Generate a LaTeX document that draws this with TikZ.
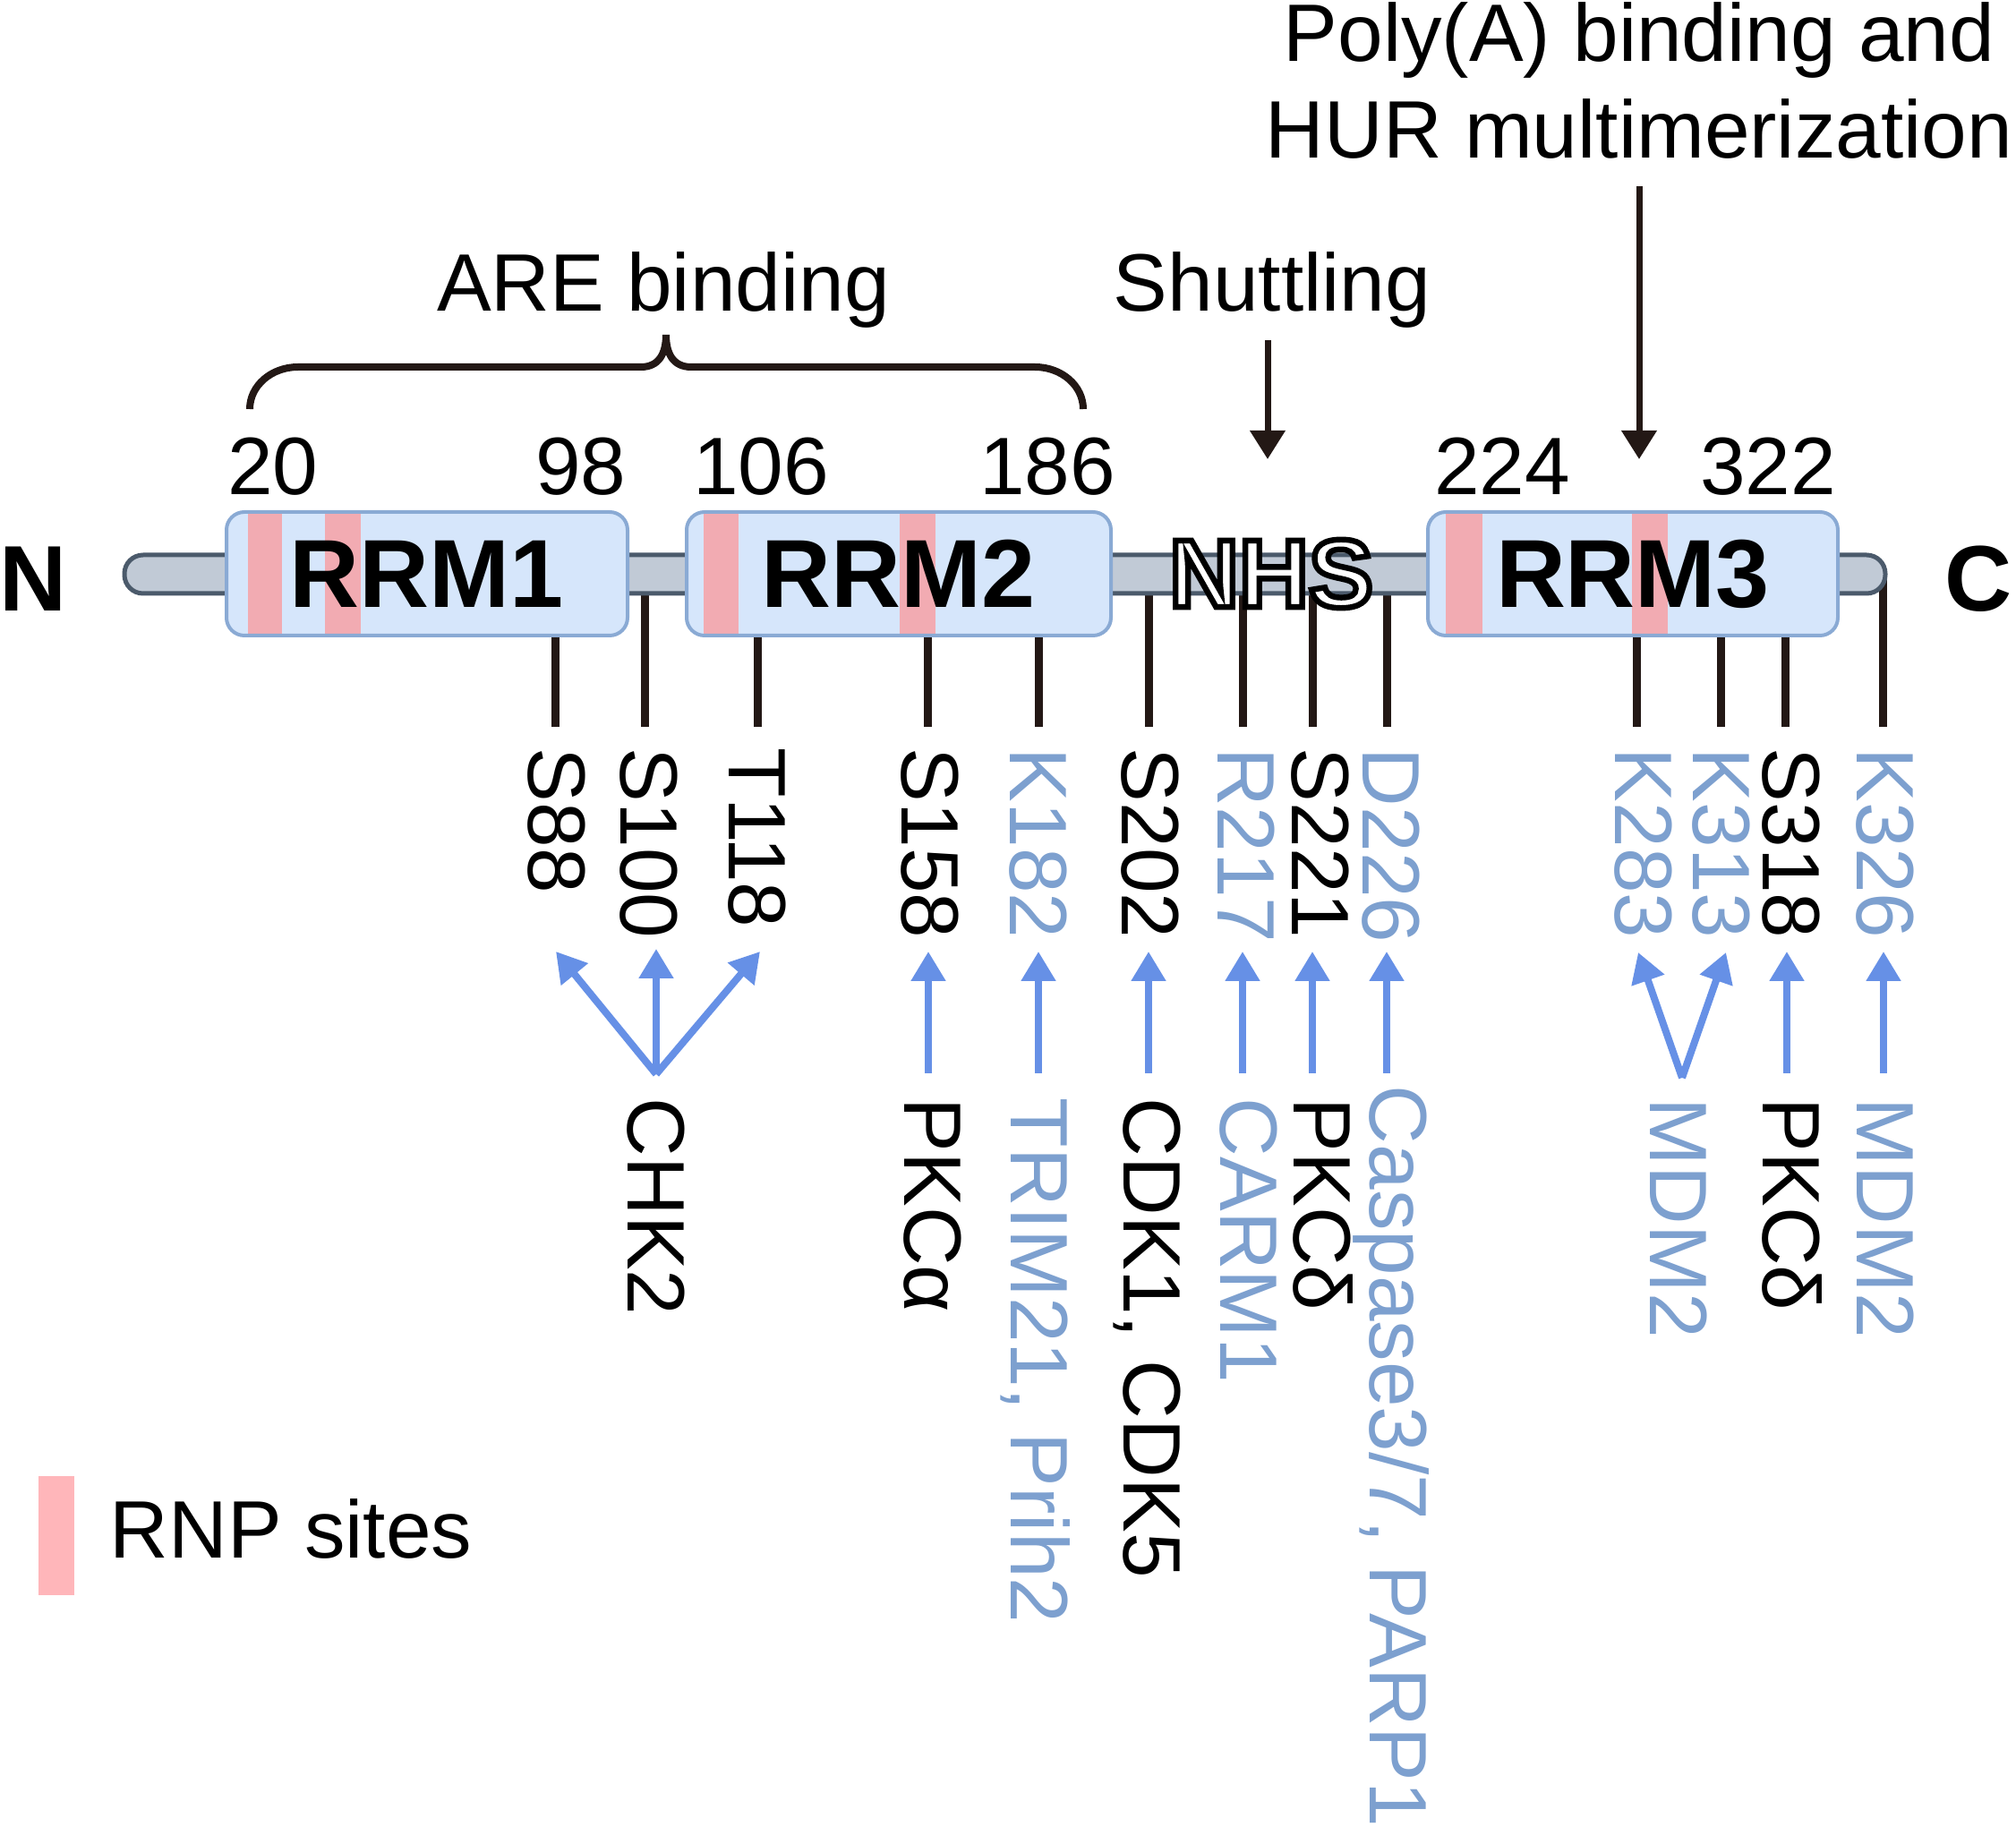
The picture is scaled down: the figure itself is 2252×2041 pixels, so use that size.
\documentclass[tikz,border=0pt]{standalone}
\usepackage{fontspec}
\setmainfont{Liberation Sans}
\usetikzlibrary{arrows.meta}
\definecolor{lineblk}{HTML}{231815}
\definecolor{bluetxt}{HTML}{7DA0CF}
\definecolor{arrowblue}{HTML}{6690E6}
\definecolor{boxfill}{HTML}{D6E6FB}
\definecolor{boxline}{HTML}{8AAAD4}
\definecolor{stripepink}{HTML}{F2ABB2}
\definecolor{legendpink}{HTML}{FFB6BA}
\definecolor{barfill}{HTML}{C1CAD6}
\definecolor{barline}{HTML}{4B5A6B}
\newcommand{\rnpstripe}[2]{\fill[stripepink, sharp corners] ([xshift=#1pt]path picture bounding box.north west) rectangle ([xshift=#2pt]path picture bounding box.south west);}
\newcommand{\outlinetext}[1]{\special{pdf:literal direct 2 Tr 1.6 w 0 0 0 RG}#1\special{pdf:literal direct 0 Tr}}
\begin{document}
\begin{tikzpicture}[x=0.25pt,y=-0.25pt,
  lab/.style={font=\fontsize{22.75}{27}\selectfont, inner sep=0pt, text=black},
  vlab/.style={lab, rotate=-90, anchor=west, text height=16.3pt, text depth=0pt},
  bluelab/.style={text=bluetxt},
  term/.style={font=\fontsize{26}{30}\selectfont\bfseries, inner sep=0pt},
  tick/.style={draw=lineblk, line width=2.25pt},
  barrow/.style={draw=arrowblue, line width=2pt, -{Triangle[length=8.25pt,width=9.25pt]}},
  karrow/.style={draw=lineblk, line width=1.75pt, -{Triangle[length=8pt,width=9.5pt]}},
  rrmbox/.style={draw=boxline, fill=boxfill, line width=1pt, rounded corners=5pt, inner sep=0pt,
     minimum height=34.5pt, font=\fontsize{27}{30}\selectfont\bfseries},
  backbone/.style={draw=barline, fill=barfill, line width=1.25pt, rounded corners=5.2pt, inner sep=0pt}]
\fill[white] (0,0) rectangle (2252,2041);
\useasboundingbox (0,0) rectangle (2252,2041);

% ticks from the backbone to the residue labels
\foreach \n/\x in {88/620,100/720,118/846,158/1036,182/1160,202/1283,217/1388,221/1466,226/1549,283/1828,313/1922,318/1994,326/2103}{
  \coordinate (top\n) at (\x,641);
  \coordinate (bot\n) at (\x,812);
  \draw[tick] (top\n) -- (bot\n);
}

% backbone
\node[backbone, minimum width=491.75pt, minimum height=10.75pt] (bar) at (1122.5,641.5) {};

% domains
\node[rrmbox, minimum width=112pt, path picture={\rnpstripe{6}{15.5}\rnpstripe{27.5}{37.5}}] (rrm1) at (477,641) {RRM1};
\node[rrmbox, minimum width=118.5pt, path picture={\rnpstripe{4.75}{14.5}\rnpstripe{59.5}{69.5}}] (rrm2) at (1004,641) {RRM2};
\node[rrmbox, minimum width=114.5pt, path picture={\rnpstripe{5}{15.25}\rnpstripe{57}{67}}] (rrm3) at (1824,641) {RRM3};
\node[font=\fontsize{27}{30}\selectfont\bfseries, text=white, inner sep=0pt] (nhs) at (1420,641) {\outlinetext{NHS}};

% termini
\node[term, anchor=base east] (nterm) at (75,683) {N};
\node[term, anchor=base west] (cterm) at (2172,683) {C};

% residue numbers
\node[lab, anchor=base] (n20) at (305,553) {20};
\node[lab, anchor=base] (n98) at (649,553) {98};
\node[lab, anchor=base] (n106) at (850,553) {106};
\node[lab, anchor=base] (n186) at (1170,553) {186};
\node[lab, anchor=base] (n224) at (1678,553) {224};
\node[lab, anchor=base] (n322) at (1975,553) {322};

% function labels
\node[lab, anchor=base] (are) at (741,348) {ARE binding};
\node[lab, anchor=base] (shut) at (1421,348) {Shuttling};
\node[lab, align=center, anchor=south] (poly) at (1831,178) {Poly(A) binding and\\HUR multimerization};
\draw[lineblk, line width=2pt] (279,457) .. controls (279,431) and (303,410) .. (333,410) -- (716,410)
  .. controls (736,410) and (744,395) .. (744,374) .. controls (744,395) and (752,410) .. (772,410)
  -- (1156,410) .. controls (1186,410) and (1210,431) .. (1210,457);
\coordinate (shutTail) at (1416,380);
\coordinate (shutTip) at (1416,513);
\coordinate (polyTail) at (1831,208);
\coordinate (polyTip) at (1831,513);
\draw[karrow] (shutTail) -- (shutTip);
\draw[karrow] (polyTail) -- (polyTip);

% modified residues
\node[vlab] (s88) at (623,835) {S88};
\node[vlab] (s100) at (726,835) {S100};
\node[vlab] (t118) at (847,835) {T118};
\node[vlab] (s158) at (1040,835) {S158};
\node[vlab,bluelab] (k182) at (1161,835) {K182};
\node[vlab] (s202) at (1286,835) {S202};
\node[vlab,bluelab] (r217) at (1393,835) {R217};
\node[vlab] (s221) at (1476,835) {S221};
\node[vlab,bluelab] (d226) at (1555,835) {D226};
\node[vlab,bluelab] (k283) at (1837,835) {K283};
\node[vlab,bluelab] (k313) at (1924,835) {K313};
\node[vlab] (s318) at (2002,835) {S318};
\node[vlab,bluelab] (k326) at (2107,835) {K326};

% enzymes
\node[vlab] (chk2) at (734,1226) {CHK2};
\node[vlab] (pkca) at (1043,1226) {PKCα};
\node[vlab,bluelab] (trim) at (1162,1226) {TRIM21, Prih2};
\node[vlab] (cdk) at (1288,1226) {CDK1, CDK5};
\node[vlab,bluelab] (carm) at (1396,1226) {CARM1};
\node[vlab] (pkcd1) at (1478,1226) {PKCδ};
\node[vlab,bluelab] (casp) at (1563,1212) {Caspase3/7, PARP1};
\node[vlab,bluelab] (mdm2a) at (1876,1226) {MDM2};
\node[vlab] (pkcd2) at (2002,1226) {PKCδ};
\node[vlab,bluelab] (mdm2b) at (2107,1226) {MDM2};

% arrows enzyme -> residue
\coordinate (chk2o) at (733,1200);
\coordinate (h88) at (621,1063);
\coordinate (h100) at (733,1060);
\coordinate (h118) at (849,1063);
\draw[barrow] (chk2o) -- (h88);
\draw[barrow] (chk2o) -- (h100);
\draw[barrow] (chk2o) -- (h118);
\coordinate (mdmo) at (1879,1204);
\coordinate (h283) at (1830,1064);
\coordinate (h313) at (1928,1064);
\draw[barrow] (mdmo) -- (h283);
\draw[barrow] (mdmo) -- (h313);
\foreach \n/\x in {158/1037,182/1160,202/1283,217/1388,221/1466,226/1549,318/1996,326/2104}{
  \coordinate (o\n) at (\x,1199);
  \coordinate (h\n) at (\x,1063);
  \draw[barrow] (o\n) -- (h\n);
}

% legend
\node[fill=legendpink, minimum width=10pt, minimum height=33.25pt, inner sep=0pt] (rnpkey) at (63,1715.5) {};
\node[lab, anchor=base west] (rnp) at (122,1741) {RNP sites};
\end{tikzpicture}
\end{document}
